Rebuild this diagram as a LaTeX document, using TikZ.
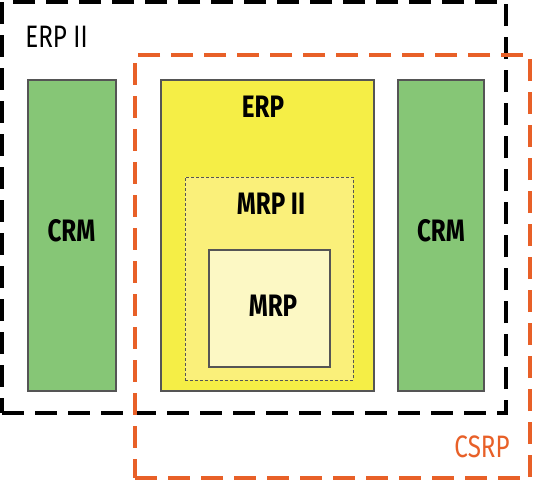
\documentclass[tikz,border=0pt]{standalone}
\usepackage{fontspec}
\setmainfont{Fira Sans}[FakeStretch=0.78]
\definecolor{crmgreen}{RGB}{134,198,118}
\definecolor{erpyellow}{RGB}{245,238,70}
\definecolor{mrp2yellow}{RGB}{250,240,122}
\definecolor{mrpyellow}{RGB}{252,248,196}
\definecolor{csrporange}{RGB}{232,96,40}
\definecolor{boxline}{RGB}{85,85,85}
\begin{document}
\begin{tikzpicture}[x=1pt,y=-1pt,
  module/.style={draw=boxline,line width=1.4pt},
  biglabel/.style={font=\fontsize{31}{31}\selectfont\bfseries,inner sep=0pt},
  outerlabel/.style={font=\fontsize{31}{31}\selectfont,inner sep=0pt},
  erpiiframe/.style={draw=black,line width=4pt,dash pattern=on 22pt off 11pt},
  csrpframe/.style={draw=csrporange,line width=3.5pt,dash pattern=on 22pt off 11pt}]
\useasboundingbox (0,0) rectangle (533,480);
\fill[white] (0,0) rectangle (533,480);
% modules
\node[module,fill=crmgreen,minimum width=88pt,minimum height=311pt,inner sep=0pt] (crmL) at (72,235.5) {};
\node[module,fill=erpyellow,minimum width=213pt,minimum height=311pt,inner sep=0pt] (erp) at (267.5,235.5) {};
\node[module,fill=crmgreen,minimum width=86pt,minimum height=311pt,inner sep=0pt] (crmR) at (441,235.5) {};
\node[draw=boxline,line width=1pt,densely dashed,fill=mrp2yellow,minimum width=168pt,minimum height=203pt,inner sep=0pt] (mrp2) at (269,278.5) {};
\node[module,fill=mrpyellow,minimum width=121pt,minimum height=117pt,inner sep=0pt] (mrp) at (269.5,308.5) {};
% labels
\node[biglabel] (tcrmL) at (71.5,231) {CRM};
\node[biglabel] (tcrmR) at (441,231) {CRM};
\node[biglabel] (terp) at (263,107) {ERP};
\node[biglabel] (tmrp2) at (271,203.5) {MRP II};
\node[biglabel] (tmrp) at (273,306) {MRP};
% frames
\node[erpiiframe,minimum width=504pt,minimum height=411pt,inner sep=0pt] (erpii) at (254,207.5) {};
\node[csrpframe,minimum width=395pt,minimum height=423pt,inner sep=0pt] (csrp) at (332.5,266.5) {};
\node[outerlabel] (terpii) at (56.5,37) {ERP II};
\node[outerlabel,text=csrporange] (tcsrp) at (482,447) {CSRP};
\end{tikzpicture}
\end{document}
